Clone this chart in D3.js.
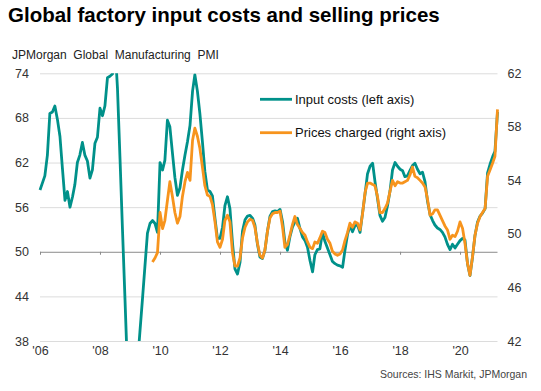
<!DOCTYPE html>
<html><head><meta charset="utf-8">
<script src="https://cdn.jsdelivr.net/npm/d3@7"></script>
<style>
body{margin:0;background:#fff}
svg{display:block}
text{font-family:"Liberation Sans",Arial,sans-serif}
</style>
</head><body>
<svg id="chart" width="541" height="391"></svg>
<script>
const titleText = "Global factory input costs and selling prices";
const subtitleText = "JPMorgan  Global  Manufacturing  PMI";
const sourceText = "Sources: IHS Markit, JPMorgan";
const seriesNames = ["Input costs (left axis)", "Prices charged (right axis)"];
const seriesColors = ["#00918a", "#f7941d"];

const inputStart = [2006, 0];   // Jan 2006
const pricesStart = [2009, 9];  // Oct 2009

const inputCosts = [
  58.3,59.3,60.2,63.0,68.6,68.8,69.6,67.8,65.5,61.2,56.9,58.1,
  56.0,57.4,59.0,62.0,63.0,64.7,63.0,62.2,59.9,61.0,64.6,65.4,
  69.3,68.3,69.6,73.4,73.6,73.9,78.0,72.0,62.5,53.0,43.5,34.0,
  29.0,28.0,30.5,34.8,39.2,43.6,48.0,52.5,53.8,54.2,53.8,52.6,
  62.0,61.0,62.3,67.7,66.8,63.3,60.0,57.6,58.6,61.0,63.0,64.8,
  67.0,71.6,73.8,71.6,68.6,64.8,60.8,58.3,58.1,57.5,54.5,51.8,
  51.8,53.3,56.2,57.4,55.8,51.2,47.7,47.0,48.6,52.8,54.3,54.8,
  54.9,54.5,53.6,51.0,49.3,49.1,50.2,52.8,54.8,55.4,55.5,55.4,
  55.7,54.0,51.3,50.2,52.0,53.3,54.0,54.5,53.1,52.0,51.5,50.6,
  48.8,47.3,49.6,50.3,50.4,52.6,51.4,50.5,49.6,48.7,48.4,48.2,
  48.1,47.9,50.2,52.3,53.5,52.7,53.5,53.6,52.6,55.2,57.8,60.5,
  61.5,61.9,59.5,57.2,54.9,54.1,54.6,56.2,58.2,61.0,62.0,61.5,
  61.1,60.9,60.1,60.2,60.9,61.6,61.9,61.1,60.5,60.7,59.4,56.8,
  55.0,54.2,53.6,53.2,53.0,52.6,52.0,51.0,50.3,51.0,50.5,51.0,
  51.5,51.8,51.6,48.4,46.8,49.3,52.2,54.0,54.8,55.2,55.8,60.6,
  61.8,62.8,63.5,68.8
];

const pricesCharged = [
  47.9,48.2,48.6,
  51.6,50.4,51.0,52.5,53.9,52.8,51.6,50.8,51.3,52.8,53.9,54.6,
  54.0,57.0,57.9,57.3,56.4,55.0,53.6,52.9,52.8,52.2,50.9,49.4,
  49.0,49.6,51.0,51.4,50.9,48.6,47.6,47.6,48.2,49.7,50.5,50.9,
  51.1,51.0,50.5,49.3,48.4,48.2,48.8,50.2,51.2,51.5,51.6,51.6,
  51.7,50.5,49.0,49.2,49.9,50.7,51.3,50.7,50.4,50.1,49.9,49.4,
  49.0,48.9,49.4,49.3,49.7,50.2,50.1,49.6,49.3,48.7,48.5,48.4,
  48.5,48.8,49.5,50.1,50.8,50.5,50.9,50.8,50.3,51.5,53.1,53.8,
  53.8,53.7,53.6,52.8,51.6,51.6,51.9,52.3,53.2,54.0,53.6,53.9,
  53.8,53.8,53.9,54.0,54.4,55.0,54.3,54.2,54.0,53.8,53.5,52.6,
  51.4,51.5,51.8,51.8,51.4,51.0,50.6,50.3,49.6,49.9,49.8,50.2,
  50.9,50.4,49.3,47.8,46.9,48.3,49.9,50.8,51.3,51.6,51.9,54.3,
  54.8,55.3,55.8,59.3
];

const xTickYears = [2006,2008,2010,2012,2014,2016,2018,2020];
const xTickLabels = ["'06","'08","'10","'12","'14","'16","'18","'20"];
const leftTicks = [38,44,50,56,62,68,74];
const rightTicks = [42,46,50,54,58,62];

const svg = d3.select("#chart");
const L = 40, R = 497.5, T = 73.3, B = 341;

const x = d3.scaleTime()
  .domain([new Date(2006,0,1), new Date(2021,3,1)])
  .range([L, R]);
const yL = d3.scaleLinear().domain([38,74]).range([B,T]);
const yR = d3.scaleLinear().domain([42,62]).range([B,T]);

const toSeries = (start, vals) => vals.map((v,i)=>({d:new Date(start[0], start[1]+i, 1), v}));
const inputData = toSeries(inputStart, inputCosts);
const priceData = toSeries(pricesStart, pricesCharged);

// Title & subtitle
svg.append("text").attr("x",8).attr("y",22)
  .attr("font-size","20.5px").attr("font-weight","bold").attr("fill","#000")
  .text(titleText);
svg.append("text").attr("x",12).attr("y",59)
  .attr("font-size","12px").attr("fill","#222").style("white-space","pre")
  .text(subtitleText);

// Gridlines
const grid = svg.append("g").attr("transform",`translate(${L},0)`)
  .call(d3.axisLeft(yL).tickValues(leftTicks.filter(t=>t!==50)).tickSize(-(R-L)).tickFormat(""));
grid.select(".domain").remove();
grid.selectAll(".tick line").attr("stroke","#dcdcdc").attr("stroke-width",1);

// Left labels
const lab = svg.append("g").attr("transform",`translate(${L},0)`)
  .call(d3.axisLeft(yL).tickValues(leftTicks).tickSize(0).tickPadding(11));
lab.select(".domain").remove();
lab.selectAll("text").attr("font-size","12.5px").attr("fill","#333").attr("font-family","Liberation Sans, Arial, sans-serif");

// Right labels
const rlab = svg.append("g").attr("transform",`translate(${R},0)`)
  .call(d3.axisRight(yR).tickValues(rightTicks).tickSize(0).tickPadding(10));
rlab.select(".domain").remove();
rlab.selectAll("text").attr("font-size","12.5px").attr("fill","#333").attr("font-family","Liberation Sans, Arial, sans-serif");

// 50 axis line with ticks
const xa = svg.append("g").attr("transform",`translate(0,${yL(50)})`)
  .call(d3.axisBottom(x).tickValues(xTickYears.map(y=>new Date(y,0,1))).tickSize(3).tickSizeOuter(0).tickFormat(""));
xa.select(".domain").attr("stroke","#8a8a8a").attr("d",`M${L},0.5H${R}`);
xa.selectAll(".tick line").attr("stroke","#8a8a8a");

// X labels
const xl = svg.append("g").attr("transform",`translate(0,${B})`)
  .call(d3.axisBottom(x).tickValues(xTickYears.map(y=>new Date(y,0,1))).tickSize(0).tickPadding(5)
    .tickFormat((d,i)=>xTickLabels[i]));
xl.select(".domain").remove();
xl.selectAll("text").attr("font-size","12.5px").attr("fill","#333").attr("font-family","Liberation Sans, Arial, sans-serif");

// Clip
svg.append("clipPath").attr("id","plot").append("rect")
  .attr("x",L-5).attr("y",T).attr("width",R-L+10).attr("height",B-T);

const g = svg.append("g").attr("clip-path","url(#plot)");
g.append("path").datum(inputData)
  .attr("fill","none").attr("stroke",seriesColors[0]).attr("stroke-width",2.8)
  .attr("stroke-linejoin","round")
  .attr("d", d3.line().x(d=>x(d.d)).y(d=>yL(d.v)));
g.append("path").datum(priceData)
  .attr("fill","none").attr("stroke",seriesColors[1]).attr("stroke-width",2.8)
  .attr("stroke-linejoin","round")
  .attr("d", d3.line().x(d=>x(d.d)).y(d=>yR(d.v)));

// Legend
const leg = svg.append("g");
[99.3,132.7].forEach((yy,i)=>{
  leg.append("line").attr("x1",260).attr("x2",292).attr("y1",yy).attr("y2",yy)
    .attr("stroke",seriesColors[i]).attr("stroke-width",2.8);
  leg.append("text").attr("x",295).attr("y",yy+4.5).attr("font-size","13px").attr("fill","#111")
    .text(seriesNames[i]);
});

// Source
svg.append("text").attr("x",527).attr("y",378).attr("text-anchor","end")
  .attr("font-size","10.5px").attr("fill","#444").text(sourceText);
</script>
</body></html>
